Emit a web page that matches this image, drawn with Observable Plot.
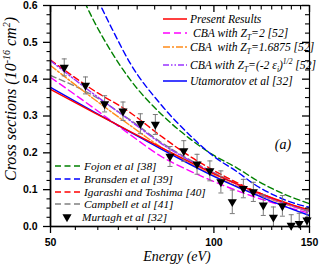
<!DOCTYPE html>
<html>
<head>
<meta charset="utf-8">
<script src="https://cdn.jsdelivr.net/npm/d3@7"></script>
<script src="https://cdn.jsdelivr.net/npm/@observablehq/plot@0.6"></script>
<style>
  html, body { margin: 0; padding: 0; background: #fff; }
  #chart svg { display: block; }
</style>
</head>
<body>
<div id="chart"></div>
<script>
// ---------- data ----------
const energy = [50, 60, 70, 80, 90, 100, 110, 120, 130, 140, 150];
const presentResults = [0.372, 0.31, 0.258, 0.214, 0.176, 0.143, 0.116, 0.093, 0.074, 0.058, 0.045];
const cbaZ2          = [0.405, 0.322, 0.25, 0.19, 0.152, 0.122, 0.098, 0.078, 0.062, 0.048, 0.036];
const cbaZ16875      = [0.437, 0.347, 0.275, 0.215, 0.172, 0.138, 0.11, 0.088, 0.069, 0.054, 0.041];
const cbaZeps        = [0.45, 0.36, 0.288, 0.225, 0.18, 0.144, 0.115, 0.091, 0.071, 0.055, 0.041];
const utamoratov     = [0.378, 0.312, 0.257, 0.21, 0.17, 0.136, 0.108, 0.085, 0.064, 0.046, 0.03];
const igarashi       = [0.452, 0.37, 0.31, 0.245, 0.192, 0.152, 0.12, 0.094, 0.073, 0.057, 0.044];
const campbell       = [0.41, 0.355, 0.29, 0.228, 0.182, 0.146, 0.117, 0.093, 0.073, 0.056, 0.039];
const fojonEnergy    = [55, 60, 65, 70, 80, 90, 100, 110, 120, 130, 140, 150];
const fojon          = [0.68, 0.56, 0.47, 0.40, 0.305, 0.24, 0.193, 0.16, 0.125, 0.098, 0.078, 0.062];
const bransdenEnergy = [60, 65, 70, 80, 90, 100, 110, 120, 130, 140, 150];
const bransden       = [0.64, 0.535, 0.445, 0.33, 0.25, 0.19, 0.15, 0.11, 0.083, 0.064, 0.052];

const murtaghEnergy = [53.0, 58.0, 62.9, 68.0, 73.2, 78.0, 83.0, 88.0, 93.1, 98.3, 103.0, 108.1, 113.3, 118.2, 123.3, 128.7, 133.7, 138.8, 143.6, 148.4];
const murtaghValue  = [0.432, 0.383, 0.333, 0.313, 0.279, 0.277, 0.19, 0.205, 0.169, 0.151, 0.121, 0.067, 0.103, 0.094, 0.058, 0.025, 0.056, 0.003, 0.008, 0.017];
const murtaghError  = [0.023, 0.023, 0.022, 0.025, 0.027, 0.027, 0.027, 0.028, 0.027, 0.027, 0.03, 0.032, 0.025, 0.026, 0.028, 0.028, 0.028, 0.029, 0.028, 0.028];

const xMajorTicks = [50, 100, 150];
const xMinorTicks = [55.56, 61.11, 66.67, 72.22, 77.78, 83.33, 88.89, 94.44, 105.56, 111.11, 116.67, 122.22, 127.78, 133.33, 138.89, 144.44];
const yMajorTicks = [0, 0.1, 0.2, 0.3, 0.4, 0.5, 0.6];
const yMinorTicks = [0.025, 0.05, 0.075, 0.125, 0.15, 0.175, 0.225, 0.25, 0.275, 0.325, 0.35, 0.375, 0.425, 0.45, 0.475, 0.525, 0.55, 0.575];

// ---------- styles ----------
const seriesList = [
  {E: energy, v: campbell, color: "#808080", dash: "6,3.5"},
  {E: fojonEnergy, v: fojon, color: "#008000", dash: "6,3.5"},
  {E: bransdenEnergy, v: bransden, color: "#0000ff", dash: "6,3.5"},
  {E: energy, v: igarashi, color: "#ff0000", dash: "6,3.5"},
  {E: energy, v: cbaZ2, color: "#ff00ff", dash: "7,4"},
  {E: energy, v: cbaZ16875, color: "#ff8c1a", dash: "7,2,2,2"},
  {E: energy, v: cbaZeps, color: "#9933ff", dash: "6,2,1.5,2,1.5,2"},
  {E: energy, v: utamoratov, color: "#0000ff", dash: null},
  {E: energy, v: presentResults, color: "#ff0000", dash: null}
];
const table = s => s.E.map((e, i) => ({E: e, v: s.v[i]}));
const murtagh = murtaghEnergy.map((e, i) => ({E: e, v: murtaghValue[i], lo: murtaghValue[i] - murtaghError[i], hi: murtaghValue[i] + murtaghError[i]}));

const W = 319, H = 264, mL = 50, mR = 10, mT = 5, mB = 38;
const frameW = W - mL - mR, frameH = H - mT - mB;
const serif = "'Liberation Serif', 'Times New Roman', serif";

const capSymbol = {draw(ctx, size) { const r = Math.sqrt(size / Math.PI); ctx.moveTo(-r, 0); ctx.lineTo(r, 0); }};

function decorations() {
  const g = d3.create("svg:g");
  const txt = (x, y, parts, size = 11, anchor = "start") => {
    const t = g.append("text").attr("x", x).attr("y", y)
      .attr("font-family", serif).attr("font-style", "italic").attr("font-weight", "normal")
      .attr("font-size", size).attr("fill", "#000").attr("text-anchor", anchor)
      .style("white-space", "pre");
    for (const p of parts) {
      if (typeof p === "string") t.append("tspan").text(p);
      else t.append("tspan").attr("dy", p[1]).attr("font-size", p[2]).text(p[0]);
    }
    return t;
  };
  const sw = (x1, x2, y, color, dash) => {
    g.append("line").attr("x1", x1).attr("x2", x2).attr("y1", y).attr("y2", y)
      .attr("stroke", color).attr("stroke-width", 1.5).attr("stroke-dasharray", dash);
  };
  const L = 11.6;
  // top-right legend
  sw(163, 187, 19, "#ff0000", null);        txt(190, 23, ["Present Results"], L);
  sw(163, 187, 33, "#ff00ff", "7,4");        txt(193, 37, ["CBA with Z", ["T", 3, 7.5], ["=2 [52]", -3, L]], L);
  sw(163, 187, 47, "#ff8c1a", "7,2,2,2");    txt(190, 51, ["CBA  with Z", ["T", 3, 7.5], ["=1.6875 [52]", -3, L]], L);
  sw(163, 187, 65, "#9933ff", "6,2,1.5,2,1.5,2"); txt(190, 69, ["CBA with Z", ["T", 3, 7.5], ["=(-2 \u03b5", -3, L], ["i", 3, 7.5], [")", -3, L], ["1/2", -5, 7.5], [" [52]", 5, L]], L);
  sw(163, 187, 81, "#0000ff", null);        txt(190, 85, ["Utamoratov et al [32]"], L);
  // bottom-left legend
  const B = 11.3;
  sw(55, 80, 166, "#008000", "6,3.5");      txt(84, 170, ["Fojon et al [38]"], B);
  sw(55, 80, 179, "#0000ff", "6,3.5");      txt(84, 183, ["Bransden et al [39]"], B);
  sw(55, 80, 192, "#ff0000", "6,3.5");      txt(84, 196, ["Igarashi and Toshima [40]"], B);
  sw(55, 80, 204, "#808080", "6,3.5");      txt(84, 208, ["Campbell et al [41]"], B);
  g.append("path").attr("d", d3.symbol(d3.symbolTriangle, 36)()).attr("transform", "translate(67,217) rotate(180)").attr("fill", "#000");
  txt(82, 221, ["Murtagh et al [32]"], B);
  // panel tag
  txt(283, 149, ["(a)"], 14, "middle");
  // axis titles
  txt(177, 261, ["Energy (eV)"], 14, "middle");
  txt(0, 0, ["Cross sections (10", ["-16", -6.5, 10], [" cm", 6.5, 16], ["2", -6.5, 10], [")", 6.5, 16]], 16, "middle")
    .attr("transform", "translate(16,99) rotate(-90)");
  return g.node();
}

const chart = Plot.plot({
  width: W, height: H,
  marginLeft: mL, marginRight: mR, marginTop: mT, marginBottom: mB,
  x: {type: "log", domain: [50, 150]},
  y: {domain: [0, 0.6]},
  style: {fontFamily: "'Liberation Sans', Arial, sans-serif", fontSize: "10.5px", fontWeight: "bold", background: "#fff", color: "#000"},
  marks: [
    ...seriesList.map(s => Plot.line(table(s), {x: "E", y: "v", stroke: s.color, strokeWidth: 1.4, strokeDasharray: s.dash, curve: "monotone-x", clip: true})),
    Plot.ruleX(murtagh, {x: "E", y1: d => Math.max(0, d.lo), y2: "hi", stroke: "#7a7a7a", strokeWidth: 1}),
    Plot.dot(murtagh, {x: "E", y: "hi", symbol: capSymbol, r: 2.5, stroke: "#7a7a7a", fill: "none", strokeWidth: 1}),
    Plot.dot(murtagh.filter(d => d.lo > 0), {x: "E", y: "lo", symbol: capSymbol, r: 2.5, stroke: "#7a7a7a", fill: "none", strokeWidth: 1}),
    Plot.dot(murtagh, {x: "E", y: "v", symbol: "triangle", rotate: 180, r: 3.4, fill: "#000", stroke: "none"}),
    Plot.frame({stroke: "#000", strokeWidth: 1.2}),
    Plot.ruleX([50], {x: d => d, stroke: "#000", strokeWidth: 1.6}),
    Plot.ruleY([0], {y: d => d, stroke: "#000", strokeWidth: 1.6}),
    Plot.axisX({ticks: xMajorTicks, tickSize: 7, tickPadding: 5, tickFormat: d => String(d), label: null, strokeWidth: 1.3}),
    Plot.axisX({ticks: xMinorTicks, tickSize: 4, tickFormat: () => "", label: null, strokeWidth: 1.1}),
    Plot.axisY({ticks: yMajorTicks, tickSize: 7, tickPadding: 6, tickFormat: d3.format(".1f"), label: null, strokeWidth: 1.3}),
    Plot.axisY({ticks: yMinorTicks, tickSize: 3.5, tickFormat: () => "", label: null, strokeWidth: 1.1}),
    Plot.tickX(xMajorTicks, {x: d => d, insetBottom: frameH - 7, stroke: "#000", strokeWidth: 1.3}),
    Plot.tickX(xMinorTicks, {x: d => d, insetBottom: frameH - 4.5, stroke: "#000", strokeWidth: 1.1}),
    Plot.tickY(yMajorTicks, {y: d => d, insetLeft: frameW - 7, stroke: "#000", strokeWidth: 1.3}),
    Plot.tickY(yMinorTicks, {y: d => d, insetLeft: frameW - 4, stroke: "#000", strokeWidth: 1.1}),
    decorations
  ]
});
document.getElementById("chart").append(chart);
</script>
</body>
</html>
